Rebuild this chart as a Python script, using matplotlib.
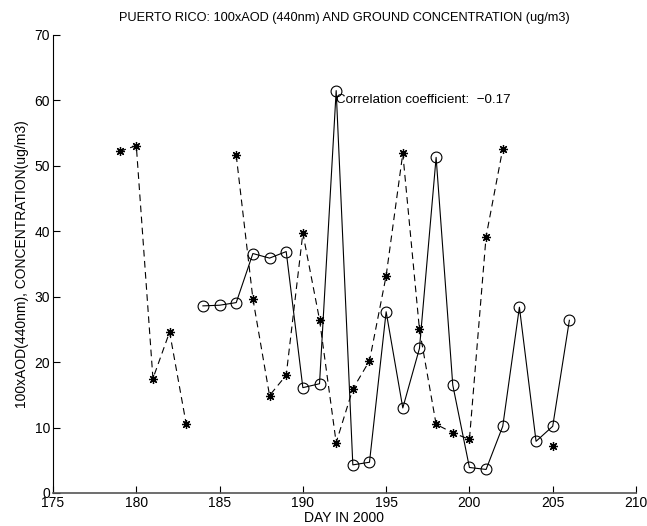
import numpy as np
import matplotlib
matplotlib.use("Agg")
import matplotlib.pyplot as plt

plt.rcParams['font.family'] = ['Liberation Sans', 'DejaVu Sans']

# Ground concentration (ug/m3), dashed with asterisks
conc_days = [179, 180, 181, 182, 183, 184, 185, 186, 187, 188, 189, 190, 191, 192,
             193, 194, 195, 196, 197, 198, 199, 200, 201, 202, 203, 204, 205]
conc_vals = [52.2, 53.1, 17.5, 24.6, 10.5, np.nan, np.nan, 51.6, 29.7, 14.9, 18.0,
             39.7, 26.5, 7.7, 15.9, 20.2, 33.2, 51.9, 25.0, 10.5, 9.2, 8.2, 39.2,
             52.6, np.nan, np.nan, 7.2]

# 100 x AOD (440nm), solid with circles
aod_days = [184, 185, 186, 187, 188, 189, 190, 191, 192, 193, 194, 195, 196, 197,
            198, 199, 200, 201, 202, 203, 204, 205, 206]
aod_vals = [28.6, 28.7, 29.1, 36.6, 35.9, 36.9, 16.1, 16.7, 61.5, 4.3, 4.7, 27.7,
            13.0, 22.1, 51.3, 16.5, 3.9, 3.6, 10.2, 28.4, 7.9, 10.2, 26.4]

xticks = [175, 180, 185, 190, 195, 200, 205, 210]
yticks = [0, 10, 20, 30, 40, 50, 60, 70]
corr_text = "Correlation coefficient:  \u22120.17"

fig = plt.figure(figsize=(6.47, 5.26), dpi=100)
ax = fig.add_axes([53/647, 1-493/526, (636-53)/647, (493-35)/526])

ax.plot(conc_days, conc_vals, color='black', linestyle=(0, (6, 4)), linewidth=0.8,
        marker=(8, 2, 0), markersize=6.5, markeredgewidth=0.9)
ax.plot(aod_days, aod_vals, color='black', linestyle='-', linewidth=0.8,
        marker='o', markersize=7.8, markerfacecolor='none', markeredgewidth=0.8)

ax.set_xlim(175, 210)
ax.set_ylim(0, 70)
ax.set_xticks(xticks)
ax.set_yticks(yticks)
ax.tick_params(direction='in', length=5, width=0.8, labelsize=10, pad=2)
ax.spines['top'].set_visible(False)
ax.spines['right'].set_visible(False)
ax.spines['left'].set_linewidth(0.8)
ax.spines['bottom'].set_linewidth(1.2)
ax.spines['bottom'].set_color('#555555')

ax.text(192, 60, corr_text, fontsize=9.6, ha='left', va='center')

ax.set_title("PUERTO RICO: 100xAOD (440nm) AND GROUND CONCENTRATION (ug/m3)",
             fontsize=9.2, pad=10)
ax.set_xlabel("DAY IN 2000", fontsize=10, labelpad=1)
ax.set_ylabel("100xAOD(440nm), CONCENTRATION(ug/m3)", fontsize=10, labelpad=4)

fig.savefig("out.png", dpi=100)
